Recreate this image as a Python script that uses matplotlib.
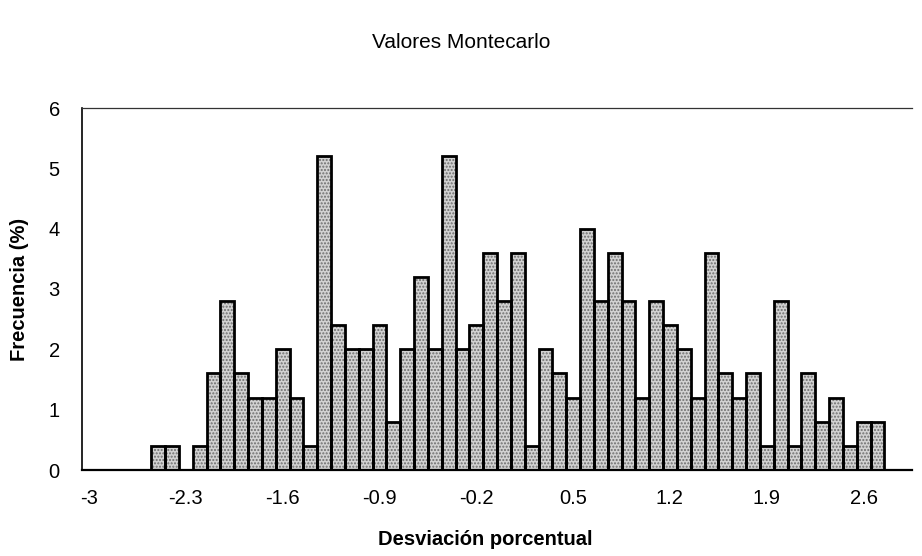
import matplotlib
matplotlib.use("Agg")
import matplotlib.pyplot as plt
import numpy as np

plt.rcParams['font.family'] = ['Liberation Sans', 'DejaVu Sans']

# Category values (desviación porcentual), step 0.1
categories = [round(-3.0 + 0.1 * i, 1) for i in range(60)]
frecuencia = [0, 0, 0, 0, 0, 0.4, 0.4, 0, 0.4, 1.6,
              2.8, 1.6, 1.2, 1.2, 2.0, 1.2, 0.4, 5.2, 2.4, 2.0,
              2.0, 2.4, 0.8, 2.0, 3.2, 2.0, 5.2, 2.0, 2.4, 3.6,
              2.8, 3.6, 0.4, 2.0, 1.6, 1.2, 4.0, 2.8, 3.6, 2.8,
              1.2, 2.8, 2.4, 2.0, 1.2, 3.6, 1.6, 1.2, 1.6, 0.4,
              2.8, 0.4, 1.6, 0.8, 1.2, 0.4, 0.8, 0.8, 0, 0]
tick_labels = ["-3", "-2.3", "-1.6", "-0.9", "-0.2", "0.5", "1.2", "1.9", "2.6"]
y_ticks = [0, 1, 2, 3, 4, 5, 6]

W, H = 922, 556
fig = plt.figure(figsize=(W / 100, H / 100), dpi=100)
ax = fig.add_axes([82 / W, 86 / H, (912 - 82) / W, (470 - 108) / H])

x = np.arange(len(categories))
ax.bar(x, frecuencia, width=1.0, facecolor='#d2d2d2', edgecolor='#6e6e6e',
       hatch='.....', linewidth=0, zorder=2)
ax.bar(x, frecuencia, width=1.0, fill=False, edgecolor='black',
       linewidth=2.0, zorder=3)

ax.set_xlim(-0.5, len(categories) - 0.5)
ax.set_ylim(0, 6)
tick_pos = [categories.index(float(t)) for t in tick_labels]
ax.set_xticks(tick_pos)
ax.set_xticklabels(tick_labels, fontsize=14.5)
ax.set_yticks(y_ticks)
ax.set_yticklabels([str(v) for v in y_ticks], fontsize=14.5)
ax.tick_params(axis='x', length=0, pad=14)
ax.tick_params(axis='y', length=0, pad=16)

ax.spines['right'].set_visible(False)
ax.spines['top'].set_linewidth(0.9)
ax.spines['top'].set_color('#333333')
ax.spines['left'].set_linewidth(1.2)
ax.spines['bottom'].set_linewidth(1.6)

ax.set_ylabel('Frecuencia (%)', fontsize=14.5, fontweight='bold', labelpad=14)
ax.set_xlabel('Desviación porcentual', fontsize=14.5, fontweight='bold', labelpad=16)
ax.xaxis.set_label_coords((485 - 82) / (912 - 82), -(540 - 470 - 10) / (470 - 108))
fig.text(0.5, 1 - 42 / H, 'Valores Montecarlo', ha='center', va='center', fontsize=15)

fig.savefig('out.png', dpi=100)
